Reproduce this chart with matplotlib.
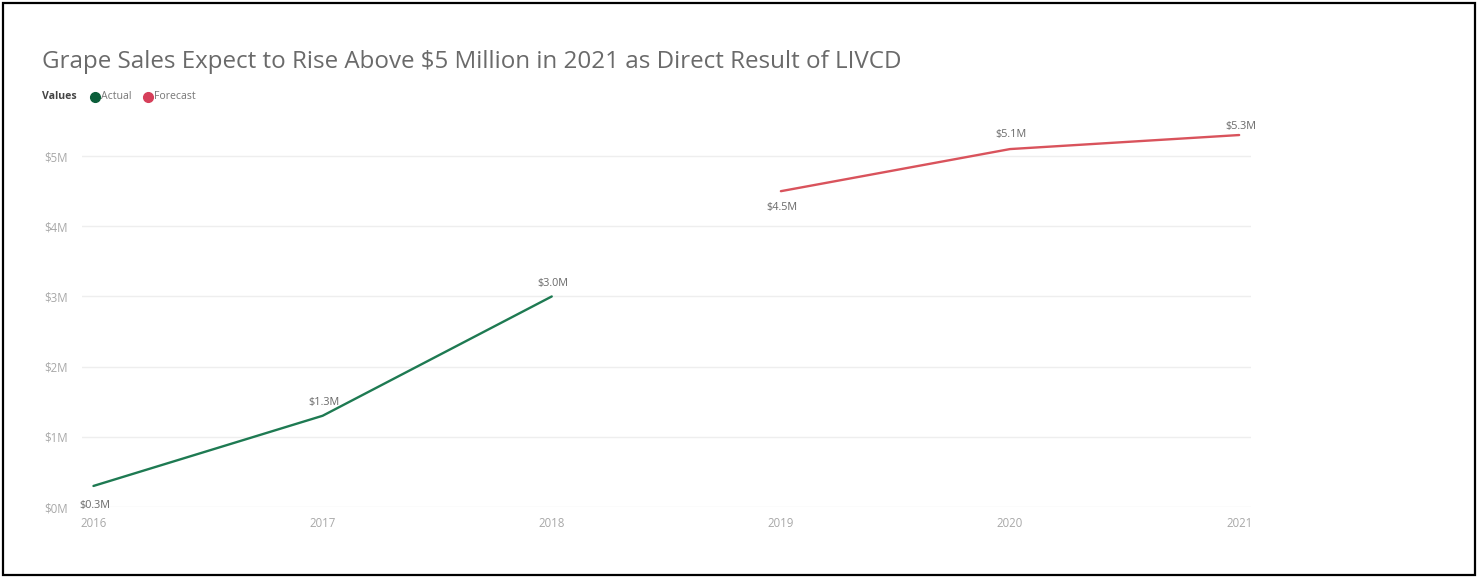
import matplotlib.pyplot as plt
from matplotlib.lines import Line2D
from matplotlib.patches import Rectangle

plt.rcParams['font.family'] = ['Open Sans', 'DejaVu Sans']

# Sales figures in millions of dollars
years = [2016, 2017, 2018, 2019, 2020, 2021]
actual_years = [2016, 2017, 2018]
actual_sales = [0.3, 1.3, 3.0]
forecast_years = [2019, 2020, 2021]
forecast_sales = [4.5, 5.1, 5.3]
y_ticks = [0, 1, 2, 3, 4, 5]

green = '#1e7a52'
red = '#d9535c'

fig = plt.figure(figsize=(14.83, 5.77), dpi=100)
ax = fig.add_axes([0.0553, 0.1213, 0.788, 0.669])

ax.plot(actual_years, actual_sales, color=green, lw=1.7, solid_capstyle='round')
ax.plot(forecast_years, forecast_sales, color=red, lw=1.7, solid_capstyle='round')

# Label offsets in points: first point of each series sits below the line
label_dy = [[-14, 9.5, 9.5], [-11.5, 10.5, 6]]
for (xs, ys), dys in zip([(actual_years, actual_sales), (forecast_years, forecast_sales)], label_dy):
    for x, y, dy in zip(xs, ys, dys):
        ax.annotate('$%.1fM' % y, (x, y), xytext=(1, dy), textcoords='offset points',
                    ha='center', va='center', fontsize=7.8, color='#6a6a6a')

ax.set_xlim(2015.95, 2021.05)
ax.set_ylim(0, 5.5)
ax.set_xticks(years)
ax.set_xticklabels([str(y) for y in years])
ax.set_yticks(y_ticks)
ax.set_yticklabels(['$%dM' % v for v in y_ticks])
ax.tick_params(length=0, labelsize=8.3, colors='#a8a8a8')
ax.tick_params(axis='x', pad=7)
ax.tick_params(axis='y', pad=10)
ax.grid(axis='y', color='#eeeeee', lw=1)
ax.set_axisbelow(True)
for s in ax.spines.values():
    s.set_visible(False)

fig.text(0.0283, 0.893, 'Grape Sales Expect to Rise Above $5 Million in 2021 as Direct Result of LIVCD',
         fontsize=17.4, color='#6a6a6a', va='center')

# Legend row
ly = 0.832
fig.text(42 / 1483, ly, 'Values', fontsize=7.6, fontweight='bold', color='#444444', va='center')
fig.add_artist(Line2D([95 / 1483], [ly], marker='o', ms=7, color='#0b5e3a', transform=fig.transFigure))
fig.text(101 / 1483, ly, 'Actual', fontsize=7.6, color='#777777', va='center')
fig.add_artist(Line2D([148 / 1483], [ly], marker='o', ms=7, color='#d63f5a', transform=fig.transFigure))
fig.text(154 / 1483, ly, 'Forecast', fontsize=7.6, color='#777777', va='center')

# Outer frame
fig.patches.append(Rectangle((3 / 1483, 2 / 577), 1472 / 1483, 572 / 577, transform=fig.transFigure,
                             fill=False, edgecolor='black', lw=1.6, figure=fig))

fig.savefig('out.png', dpi=100)
